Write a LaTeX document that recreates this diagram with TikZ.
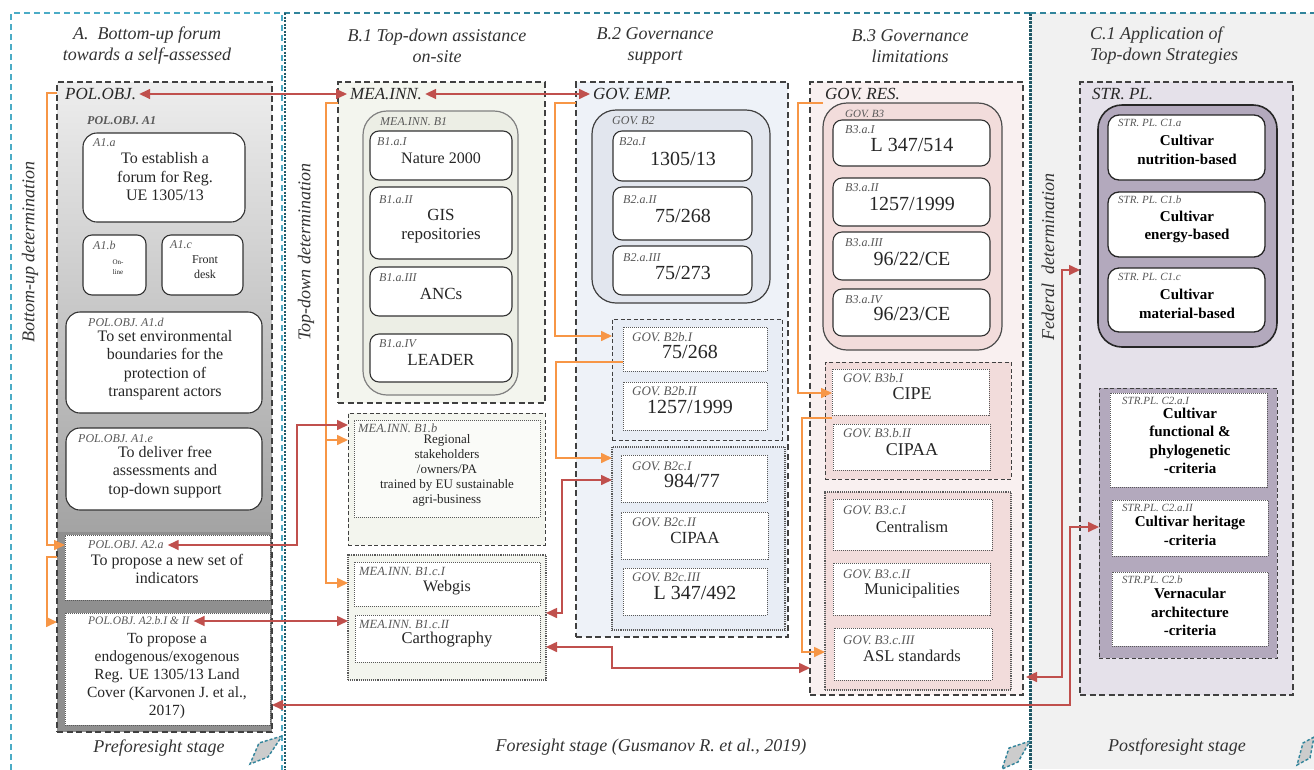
\documentclass[tikz,border=0pt]{standalone}
\usepackage{fontspec}
\setmainfont{Liberation Serif}
\usetikzlibrary{arrows.meta,calc}

\definecolor{tealA}{HTML}{4BACC6}
\definecolor{tealB}{HTML}{31849B}
\definecolor{tealC}{HTML}{215967}
\definecolor{redc}{HTML}{C0504D}
\definecolor{orangec}{HTML}{F79646}
\definecolor{txtc}{HTML}{262626}
\definecolor{lblc}{HTML}{595959}
\definecolor{greenf}{HTML}{F3F5EE}
\definecolor{greenin}{HTML}{ECEEE5}
\definecolor{bluef}{HTML}{EEF2F8}
\definecolor{bluein}{HTML}{E2E6EE}
\definecolor{bluegrp}{HTML}{E8EDF5}
\definecolor{pinkf}{HTML}{F9F0F0}
\definecolor{pinkin}{HTML}{F2DCDB}
\definecolor{cbg}{HTML}{F1F1F1}
\definecolor{lavf}{HTML}{E5E1EA}
\definecolor{lavin}{HTML}{B3A9BD}

\tikzset{
 bxbase/.style={inner sep=0pt, outer sep=0pt, anchor=north west},
 outerbox/.style={bxbase, draw=black!75, line width=1.1pt, dash pattern=on 6pt off 3.5pt},
 groupdash/.style={bxbase, draw=black!75, line width=1pt, dash pattern=on 4pt off 2.5pt},
 groupdot/.style={bxbase, draw=black!65, line width=1.1pt, densely dotted},
 rbox/.style={bxbase, draw=black!80, line width=1.1pt, rounded corners=9pt, fill=white},
 dbox/.style={bxbase, draw=black!65, line width=1pt, densely dotted, fill=white},
 cont/.style={bxbase, line width=1.2pt, rounded corners=24pt},
 lbl/.style={anchor=west, inner sep=0pt, font=\fontsize{12}{13}\selectfont\itshape, text=lblc},
 bigl/.style={anchor=west, inner sep=0pt, font=\fontsize{17}{19}\selectfont\itshape, text=txtc},
 bodyt/.style={align=center, inner sep=0pt, font=\fontsize{16}{18.5}\selectfont, text=txtc},
 codet/.style={align=center, inner sep=0pt, font=\fontsize{20}{22}\selectfont, text=txtc},
 boldt/.style={align=center, inner sep=0pt, font=\fontsize{15}{18.5}\selectfont\bfseries, text=black},
 ttl/.style={align=center, inner sep=0pt, font=\fontsize{18}{21}\selectfont\itshape, text=black!80},
 redline/.style={draw=redc, line width=1.6pt, {Triangle[length=11pt,width=10pt]}-{Triangle[length=11pt,width=10pt]}},
 orline/.style={draw=orangec, line width=1.6pt, -{Triangle[length=11pt,width=10pt]}},
 corner/.style={draw=tealB, fill=gray!40, line width=1.4pt, dash pattern=on 3pt off 2pt},
}

\newcommand\mybox[6]{\node[#2, minimum width={#5-#3}, minimum height={#6-#4}] (#1) at (#3,#4) {};}

\begin{document}
\begin{tikzpicture}[x=1pt,y=-1pt]
\useasboundingbox (0,0) rectangle (1314,769);

% ---------- panels ----------
\fill[cbg] (1030,13) rectangle (1314,769);
\draw[tealA, line width=1.6pt, dash pattern=on 6pt off 4pt] (11,780) -- (11,13) -- (282,13) -- (282,780);
\draw[tealB, line width=1.6pt, dash pattern=on 6pt off 4pt] (284,13) -- (1030,13);
\draw[tealC, line width=1.4pt, dash pattern=on 2pt off 1.5pt] (285,13) -- (285,780);
\draw[tealC, line width=3pt, dash pattern=on 2.5pt off 1.5pt] (1030,13) -- (1030,780);
\draw[tealB, line width=1.6pt, dash pattern=on 6pt off 4pt] (1030,13) -- (1314,13);
\draw[corner] (282,736) -- (259,743) -- (250,764) -- (268,757) -- cycle;
\draw[corner] (1030,741) -- (1009,748) -- (1002,769) -- (1018,762) -- cycle;
\draw[corner] (1314,737) -- (1303,743) -- (1297,765) -- (1310,758) -- cycle;

% titles
\node[ttl] (ta) at (147,46) {A.~~Bottom-up forum\\towards a self-assessed};
\node[ttl] (tb1) at (437,46) {B.1 Top-down assistance\\on-site};
\node[ttl] (tb2) at (655,46) {B.2 Governance\\support};
\node[ttl] (tb3) at (910,46) {B.3 Governance\\limitations};
\node[ttl, align=left, anchor=west] (tc1) at (1090,46) {C.1 Application of\\Top-down Strategies};
\node[ttl] (sa) at (159,748) {Preforesight stage};
\node[ttl] (sb) at (651,747) {Foresight stage (Gusmanov R. et al., 2019)};
\node[ttl] (sc) at (1177,747) {Postforesight stage};
\node[ttl, rotate=90] (rbu) at (30,252) {Bottom-up determination};
\node[ttl, rotate=90] (rtd) at (306,252) {Top-down determination};
\node[ttl, rotate=90] (rfd) at (1048,257) {Federal~~determination};

% ---------- panel A ----------
\shade[top color=black!7, bottom color=black!36] (57,82) rectangle (272,532);
\fill[black!44] (57,532) rectangle (272,732);
\mybox{polobj}{outerbox}{57}{82}{272}{732}
\node[bigl] (polobj-l) at (65,94) {POL.OBJ.};
\node[lbl, font=\fontsize{12}{13}\selectfont\itshape\bfseries] (a1-l) at (87,121) {POL.OBJ. A1};
\mybox{a1a}{rbox, rounded corners=14pt}{83}{133}{245}{222}
\node[lbl] (a1a-l) at (93,143) {A1.a};
\node[bodyt] (a1a-t) at (165,177) {To establish a\\forum for Reg.\\UE 1305/13};
\mybox{a1b}{rbox}{83}{235}{146}{295}
\node[lbl] (a1b-l) at (93,245) {A1.b};
\node[bodyt, font=\fontsize{7}{10}\selectfont] (a1b-t) at (118,267) {On-\\line};
\mybox{a1c}{rbox}{162}{235}{243}{295}
\node[lbl] (a1c-l) at (170,245) {A1.c};
\node[bodyt, font=\fontsize{12}{15}\selectfont] (a1c-t) at (205,267) {Front\\desk};
\mybox{a1d}{rbox, rounded corners=14pt}{66}{312}{262}{413}
\node[lbl] (a1d-l) at (88,322) {POL.OBJ. A1.d};
\node[bodyt] (a1d-t) at (165,365) {To set environmental\\boundaries for the\\protection of\\transparent actors};
\mybox{a1e}{rbox, rounded corners=14pt}{66}{428}{262}{510}
\node[lbl] (a1e-l) at (78,439) {POL.OBJ. A1.e};
\node[bodyt] (a1e-t) at (165,472) {To deliver free\\assessments and\\top-down support};
\mybox{a2a}{dbox}{65}{535}{270}{600}
\node[lbl] (a2a-l) at (88,545) {POL.OBJ. A2.a};
\node[bodyt] (a2a-t) at (167,569) {To propose a new set of\\indicators};
\mybox{a2b}{dbox}{65}{613}{270}{725}
\node[lbl, font=\fontsize{11.5}{12}\selectfont\itshape] (a2b-l) at (88,621) {POL.OBJ. A2.b.I \& II};
\node[bodyt, font=\fontsize{15.5}{17.8}\selectfont] (a2b-t) at (167,676) {To propose a\\endogenous/exogenous\\Reg. UE 1305/13 Land\\Cover (Karvonen J. et al.,\\2017)};

% ---------- panel B.1 ----------
\mybox{meainn}{outerbox, fill=greenf}{338}{82}{545}{403}
\node[bigl] (meainn-l) at (350,94) {MEA.INN.};
\mybox{b1}{cont, fill=greenin, draw=black!50}{363}{111}{518}{395}
\node[lbl] (b1-l) at (380,122) {MEA.INN. B1};
\mybox{b1a1}{rbox}{370}{131}{512}{180}
\node[lbl] (b1a1-l) at (377,142) {B1.a.I};
\node[bodyt] (b1a1-t) at (441,158) {Nature 2000};
\mybox{b1a2}{rbox}{370}{187}{512}{259}
\node[lbl] (b1a2-l) at (379,200) {B1.a.II};
\node[bodyt, font=\fontsize{17}{18.5}\selectfont] (b1a2-t) at (441,226) {GIS\\repositories};
\mybox{b1a3}{rbox}{370}{267}{512}{316}
\node[lbl] (b1a3-l) at (379,278) {B1.a.III};
\node[bodyt, font=\fontsize{17}{19}\selectfont] (b1a3-t) at (441,294) {ANCs};
\mybox{b1a4}{rbox}{370}{334}{512}{382}
\node[lbl] (b1a4-l) at (379,344) {B1.a.IV};
\node[bodyt, font=\fontsize{17}{19}\selectfont] (b1a4-t) at (441,360) {LEADER};
\mybox{b1b}{groupdash, fill=greenf}{348}{413}{545}{545}
\mybox{b1bi}{dbox, fill=white!60!greenf}{354}{420}{540}{517}
\node[lbl, font=\fontsize{12.5}{13}\selectfont\itshape] (b1b-l) at (358,428) {MEA.INN. B1.b};
\node[bodyt, font=\fontsize{13}{15}\selectfont] (b1b-t) at (447,470) {Regional\\stakeholders\\/owners/PA\\trained by EU sustainable\\agri-business};
\mybox{b1c}{groupdot, fill=greenf}{348}{555}{546}{680}
\mybox{b1c1}{dbox}{354}{562}{540}{606}
\node[lbl, font=\fontsize{12.5}{13}\selectfont\itshape] (b1c1-l) at (359,571) {MEA.INN. B1.c.I};
\node[bodyt] (b1c1-t) at (447,588) {Webgis};
\mybox{b1c2}{dbox}{355}{615}{540}{662}
\node[lbl, font=\fontsize{12.5}{13}\selectfont\itshape] (b1c2-l) at (359,624) {MEA.INN. B1.c.II};
\node[bodyt, font=\fontsize{16.5}{18}\selectfont] (b1c2-t) at (447,640) {Carthography};

% ---------- panel B.2 ----------
\mybox{govemp}{outerbox, fill=bluef}{576}{82}{788}{637}
\node[bigl] (govemp-l) at (593,94) {GOV. EMP.};
\mybox{b2}{cont, fill=bluein, draw=black!75}{592}{110}{770}{303}
\node[lbl] (b2-l) at (612,121) {GOV. B2};
\mybox{b2a1}{rbox}{613}{131}{752}{181}
\node[lbl] (b2a1-l) at (619,142) {B2a.I};
\node[codet] (b2a1-t) at (683,159) {1305/13};
\mybox{b2a2}{rbox}{613}{187}{752}{240}
\node[lbl] (b2a2-l) at (623,200) {B2.a.II};
\node[codet] (b2a2-t) at (683,216) {75/268};
\mybox{b2a3}{rbox}{613}{246}{752}{295}
\node[lbl] (b2a3-l) at (623,258) {B2.a.III};
\node[codet] (b2a3-t) at (683,273) {75/273};
\mybox{b2b}{groupdash, fill=bluegrp}{612}{319}{782}{440}
\mybox{b2b1}{dbox}{623}{327}{767}{371}
\node[lbl, font=\fontsize{13}{14}\selectfont\itshape] (b2b1-l) at (632,337) {GOV. B2b.I};
\node[codet] (b2b1-t) at (690,352) {75/268};
\mybox{b2b2}{dbox}{623}{382}{767}{430}
\node[lbl, font=\fontsize{13}{14}\selectfont\itshape] (b2b2-l) at (632,391) {GOV. B2b.II};
\node[codet] (b2b2-t) at (690,407) {1257/1999};
\mybox{b2c}{groupdot, fill=bluegrp}{612}{447}{785}{630}
\mybox{b2c1}{dbox}{621}{455}{767}{502}
\node[lbl, font=\fontsize{13}{14}\selectfont\itshape] (b2c1-l) at (632,466) {GOV. B2c.I};
\node[codet] (b2c1-t) at (692,481) {984/77};
\mybox{b2c2}{dbox}{621}{512}{768}{559}
\node[lbl, font=\fontsize{13}{14}\selectfont\itshape] (b2c2-l) at (632,522) {GOV. B2c.II};
\node[bodyt, font=\fontsize{17}{19}\selectfont] (b2c2-t) at (695,538) {CIPAA};
\mybox{b2c3}{dbox}{623}{568}{767}{615}
\node[lbl, font=\fontsize{13}{14}\selectfont\itshape] (b2c3-l) at (632,577) {GOV. B2c.III};
\node[codet] (b2c3-t) at (695,593) {L 347/492};

% ---------- panel B.3 ----------
\mybox{govres}{outerbox, fill=pinkf}{810}{82}{1023}{695}
\node[bigl] (govres-l) at (825,94) {GOV. RES.};
\mybox{b3}{cont, fill=pinkin, draw=black!70}{823}{103}{1002}{350}
\node[lbl, font=\fontsize{11}{12}\selectfont\itshape] (b3-l) at (845,114) {GOV. B3};
\mybox{b3a1}{rbox}{833}{120}{990}{166}
\node[lbl] (b3a1-l) at (845,130) {B3.a.I};
\node[codet] (b3a1-t) at (912,145) {L 347/514};
\mybox{b3a2}{rbox}{833}{178}{990}{226}
\node[lbl] (b3a2-l) at (845,188) {B3.a.II};
\node[codet] (b3a2-t) at (912,204) {1257/1999};
\mybox{b3a3}{rbox}{833}{232}{990}{280}
\node[lbl] (b3a3-l) at (845,243) {B3.a.III};
\node[codet] (b3a3-t) at (912,259) {96/22/CE};
\mybox{b3a4}{rbox}{833}{289}{990}{336}
\node[lbl] (b3a4-l) at (845,300) {B3.a.IV};
\node[codet] (b3a4-t) at (912,314) {96/23/CE};
\mybox{b3b}{groupdash, fill=pinkin}{825}{362}{1011}{479}
\mybox{b3b1}{dbox}{832}{369}{989}{415}
\node[lbl, font=\fontsize{13}{14}\selectfont\itshape] (b3b1-l) at (843,378) {GOV. B3b.I};
\node[bodyt, font=\fontsize{18}{20}\selectfont] (b3b1-t) at (912,394) {CIPE};
\mybox{b3b2}{dbox}{833}{424}{990}{470}
\node[lbl, font=\fontsize{13}{14}\selectfont\itshape] (b3b2-l) at (843,433) {GOV. B3.b.II};
\node[bodyt, font=\fontsize{18}{20}\selectfont] (b3b2-t) at (912,450) {CIPAA};
\mybox{b3c}{groupdot, fill=pinkin}{825}{492}{1011}{690}
\mybox{b3c1}{dbox}{833}{499}{992}{550}
\node[lbl, font=\fontsize{13}{14}\selectfont\itshape] (b3c1-l) at (843,510) {GOV. B3.c.I};
\node[bodyt, font=\fontsize{16.5}{18}\selectfont] (b3c1-t) at (912,527) {Centralism};
\mybox{b3c2}{dbox}{833}{563}{990}{615}
\node[lbl, font=\fontsize{13}{14}\selectfont\itshape] (b3c2-l) at (843,574) {GOV. B3.c.II};
\node[bodyt, font=\fontsize{16.5}{18}\selectfont] (b3c2-t) at (912,591) {Municipalities};
\mybox{b3c3}{dbox}{834}{628}{992}{680}
\node[lbl, font=\fontsize{13}{14}\selectfont\itshape] (b3c3-l) at (843,640) {GOV. B3.c.III};
\node[bodyt, font=\fontsize{16.5}{18}\selectfont] (b3c3-t) at (912,656) {ASL standards};

% ---------- panel C ----------
\mybox{strpl}{outerbox, fill=lavf}{1080}{82}{1293}{695}
\node[bigl] (strpl-l) at (1092,94) {STR. PL.};
\mybox{c1}{cont, fill=lavin, draw=black!85, line width=1.6pt}{1098}{105}{1277}{347}
\mybox{c1a}{rbox, draw=black!85, line width=1.3pt, rounded corners=11pt}{1108}{115}{1265}{180}
\node[lbl, font=\fontsize{11}{12}\selectfont\itshape] (c1a-l) at (1118,123) {STR. PL. C1.a};
\node[boldt] (c1a-t) at (1187,150) {Cultivar\\nutrition-based};
\mybox{c1b}{rbox, draw=black!85, line width=1.3pt, rounded corners=11pt}{1108}{192}{1265}{257}
\node[lbl, font=\fontsize{11}{12}\selectfont\itshape] (c1b-l) at (1118,200) {STR. PL. C1.b};
\node[boldt] (c1b-t) at (1187,227) {Cultivar\\energy-based};
\mybox{c1c}{rbox, draw=black!85, line width=1.3pt, rounded corners=11pt}{1108}{268}{1265}{332}
\node[lbl, font=\fontsize{11}{12}\selectfont\itshape] (c1c-l) at (1118,277) {STR. PL. C1.c};
\node[boldt] (c1c-t) at (1187,304) {Cultivar\\material-based};
\mybox{c2}{groupdash, fill=lavin}{1099}{388}{1277}{658}
\mybox{c2a1}{dbox}{1110}{393}{1267}{487}
\node[lbl, font=\fontsize{11}{12}\selectfont\itshape] (c2a1-l) at (1122,401) {STR.PL. C2.a.I};
\node[boldt] (c2a1-t) at (1190,441) {Cultivar\\functional \&\\phylogenetic\\-criteria};
\mybox{c2a2}{dbox}{1112}{500}{1268}{556}
\node[lbl, font=\fontsize{11}{12}\selectfont\itshape] (c2a2-l) at (1122,508) {STR.PL. C2.a.II};
\node[boldt] (c2a2-t) at (1190,531) {Cultivar heritage\\-criteria};
\mybox{c2b}{dbox}{1112}{572}{1268}{646}
\node[lbl, font=\fontsize{11}{12}\selectfont\itshape] (c2b-l) at (1122,580) {STR.PL. C2.b};
\node[boldt] (c2b-t) at (1190,612) {Vernacular\\architecture\\-criteria};

% ---------- connectors ----------
% orange (determination)
\draw[orline] ([yshift=-11pt]polobj.north west) -| ([xshift=-18pt,yshift=-10pt]a2a.north west) -- ([yshift=-10pt]a2a.north west);
\draw[orline] ([xshift=-8pt,yshift=-22pt]a2a.north west) -| ([xshift=-18pt,yshift=-9pt]a2b.north west) -- ([xshift=-8pt,yshift=-9pt]a2b.north west);
\draw[orline] ([yshift=-21pt]meainn.north west) -| ([xshift=-22pt,yshift=-28pt]b1c.north west) -- ([yshift=-28pt]b1c.north west);
\draw[orline] ([xshift=-22pt,yshift=-27pt]b1b.north west) -- ([yshift=-27pt]b1b.north west);
\draw[orline] ([yshift=-21pt]govemp.north west) -| ([xshift=-57pt,yshift=-17pt]b2b.north west) -- ([yshift=-17pt]b2b.north west);
\draw[orline] ([yshift=-35pt]b2b1.north west) -| ([xshift=-56pt,yshift=-11pt]b2c.north west) -- ([yshift=-11pt]b2c.north west);
\draw[orline] ([xshift=13pt,yshift=-21pt]govres.north west) -| ([xshift=-34pt,yshift=-24pt]b3b1.north west) -- ([yshift=-24pt]b3b1.north west);
\draw[orline] ([yshift=-49pt]b3b1.north west) -| ([xshift=-23pt,yshift=-160pt]b3c.north west) -- ([yshift=-160pt]b3c.north west);
% red (interactions)
\draw[redline] ([xshift=3pt]polobj-l.east) -- ([xshift=-3pt]meainn-l.west);
\draw[redline] ([xshift=3pt]meainn-l.east) -- ([xshift=-3pt]govemp-l.west);
\draw[redline] ([xshift=4pt]a2a-l.east) -| ([xshift=-51pt,yshift=-12pt]b1b.north west) -- ([yshift=-12pt]b1b.north west);
\draw[redline] ([xshift=4pt]a2b-l.east) -- (a2b-l.east -| b1c.west);
\draw[redline] ([yshift=-58pt]b1c.north east) -| ([xshift=-50pt,yshift=-33pt]b2c.north west) -- ([yshift=-33pt]b2c.north west);
\draw[redline] ([yshift=-92pt]b1c.north east) -| ([xshift=-198pt,yshift=-586pt]govres.north west) -- ([yshift=-586pt]govres.north west);
\draw[redline] ([yshift=27pt]polobj.south east) -| ([xshift=-29pt,yshift=-139pt]c2.north west) -- ([yshift=-139pt]c2.north west);
\draw[redline] ([xshift=3pt,yshift=18pt]govres.south east) -| ([xshift=-18pt,yshift=-188pt]strpl.north west) -- ([yshift=-188pt]strpl.north west);
\end{tikzpicture}
\end{document}
